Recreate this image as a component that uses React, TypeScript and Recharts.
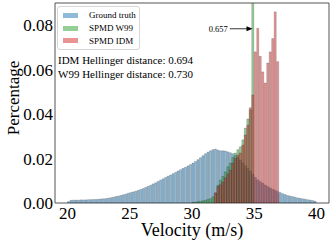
import {
  ComposedChart,
  Bar,
  XAxis,
  YAxis,
  Label,
  Legend,
  ReferenceArea,
  ReferenceLine,
} from "recharts";

const FONT = "Liberation Serif, DejaVu Serif, serif";

const BIN_WIDTH = 0.2;
const X_MIN = 19;
const X_MAX = 41;
const Y_MAX = 0.09;
const xTicks = [20, 25, 30, 35, 40];
const yTicks = [0, 0.02, 0.04, 0.06, 0.08];

// histogram heights, one value per 0.2 m/s bin, starting at the given left edge
const groundTruthStart = 20.0;
const groundTruth = [
  0.0006, 0.0012, 0.0013, 0.0013, 0.0013,
  0.0014, 0.0014, 0.0014, 0.0015, 0.0015,
  0.0016, 0.0016, 0.0017, 0.0018, 0.0019,
  0.002, 0.0022, 0.0024, 0.0026, 0.0029,
  0.0031, 0.0034, 0.0037, 0.004, 0.0044,
  0.0047, 0.005, 0.0053, 0.0057, 0.0061,
  0.0065, 0.007, 0.0075, 0.008, 0.0086,
  0.0091, 0.0097, 0.0103, 0.0109, 0.0115,
  0.0121, 0.0126, 0.0132, 0.0138, 0.0144,
  0.015, 0.0156, 0.0161, 0.0167, 0.0173,
  0.018, 0.0187, 0.0195, 0.0204, 0.0213,
  0.0222, 0.0229, 0.0235, 0.024, 0.0243,
  0.0238, 0.0235, 0.0235, 0.0234, 0.023,
  0.0226, 0.0222, 0.0215, 0.0205, 0.0193,
  0.0181, 0.0169, 0.0157, 0.0144, 0.013,
  0.0115, 0.0104, 0.0096, 0.0089, 0.0081,
  0.0074, 0.0068, 0.0062, 0.0057, 0.0052,
  0.0047, 0.0042, 0.0038, 0.0034, 0.0031,
  0.0029, 0.0026, 0.0023, 0.0021, 0.0019,
  0.0017, 0.0015, 0.0013, 0.0011, 0.0008,
];

const w99Start = 30.0;
const spmdW99 = [
  0.0003, 0.0004, 0.0006, 0.0008, 0.001,
  0.0013, 0.0016, 0.002, 0.0028, 0.0044,
  0.008, 0.0103, 0.012, 0.014, 0.0163,
  0.018, 0.0205, 0.0225, 0.024, 0.0253,
  0.0284, 0.0337, 0.0378, 0.042, 0.657,
];

const idmStart = 31.8;
const spmdIdm = [
  0.0046, 0.0073, 0.0082, 0.0094, 0.0113,
  0.013, 0.0148, 0.018, 0.02, 0.0215,
  0.0225, 0.026, 0.0306, 0.035, 0.0429,
  0.0486, 0.068, 0.0786, 0.066, 0.059,
  0.054, 0.063, 0.068, 0.074, 0.086,
  0.0636,
];

const seriesNames = ["Ground truth", "SPMD W99", "SPMD IDM"];
const colors = ["#1f77b4", "#2ca02c", "#d62728"];
const idmText = "IDM Hellinger distance: 0.694";
const w99Text = "W99 Hellinger distance: 0.730";
const peakText = "0.657";
// arrow of the peak annotation, in data units
const arrowFrom = { x: 33.04, y: 0.0784 };
const arrowTo = { x: 34.86, y: 0.0784 };

const binCount = Math.round((X_MAX - X_MIN) / BIN_WIDTH);
const pick = (start: number, values: number[], i: number) => {
  const k = i - Math.round((start - X_MIN) / BIN_WIDTH);
  return k >= 0 && k < values.length ? values[k] : null;
};
const data = Array.from({ length: binCount }, (_, i) => ({
  x: Number((X_MIN + BIN_WIDTH * (i + 0.5)).toFixed(2)),
  gt: pick(groundTruthStart, groundTruth, i),
  w99: pick(w99Start, spmdW99, i),
  idm: pick(idmStart, spmdIdm, i),
}));

function LegendBox({ payload }: any) {
  return (
    <div
      style={{
        border: "1px solid #d6d6d6",
        borderRadius: 3,
        background: "rgba(255,255,255,0.8)",
        padding: "2px 3px 2px 5px",
        fontFamily: FONT,
        fontSize: 9,
        color: "#000",
      }}
    >
      {(payload || []).map((entry: any) => (
        <div
          key={entry.value}
          style={{ display: "flex", alignItems: "center", height: 12.7 }}
        >
          <span
            style={{
              display: "inline-block",
              width: 15,
              height: 5,
              background: entry.color,
              opacity: 0.5,
              marginRight: 11,
            }}
          />
          <span>{entry.value}</span>
        </div>
      ))}
    </div>
  );
}

function Arrow(p: any) {
  const { x1, y1, x2, y2 } = p;
  return (
    <g>
      <line x1={x1} y1={y1} x2={x2 - 4} y2={y2} stroke="#000" strokeWidth={0.8} />
      <polygon
        points={`${x2},${y2} ${x2 - 6},${y2 - 2.5} ${x2 - 6},${y2 + 2.5}`}
        fill="#000"
      />
    </g>
  );
}

const barStyle = {
  stroke: "#000",
  strokeOpacity: 0.45,
  strokeWidth: 0.4,
  fillOpacity: 0.5,
};

export default function App() {
  return (
    <div style={{ position: "absolute", left: 0, top: 0, background: "#fff" }}>
      <ComposedChart
        width={332}
        height={243}
        data={data}
        margin={{ top: 3, right: 3, bottom: 0, left: 0 }}
        barCategoryGap={0}
        barGap={0}
      >
        <XAxis xAxisId="gt" dataKey="x" type="category" height={0} hide />
        <XAxis xAxisId="w99" dataKey="x" type="category" height={0} hide />
        <XAxis xAxisId="idm" dataKey="x" type="category" height={0} hide />
        <XAxis
          xAxisId="num"
          dataKey="x"
          type="number"
          domain={[X_MIN, X_MAX]}
          ticks={xTicks}
          allowDataOverflow
          height={40}
          tickLine={false}
          axisLine={false}
          tickSize={0}
          tickMargin={4}
          tick={{ fontSize: 17, fill: "#000", fontFamily: FONT }}
        >
          <Label
            value="Velocity (m/s)"
            position="insideBottom"
            offset={7}
            style={{ fontSize: 18, fill: "#000", fontFamily: FONT }}
          />
        </XAxis>
        <YAxis
          domain={[0, Y_MAX]}
          ticks={yTicks}
          allowDataOverflow
          width={55}
          tickLine={false}
          axisLine={false}
          tickSize={0}
          tickMargin={2}
          tickFormatter={(v: number) => v.toFixed(2)}
          tick={{ fontSize: 17, fill: "#000", fontFamily: FONT }}
        >
          <Label
            value="Percentage"
            angle={-90}
            position="center"
            dx={-15}
            dy={-5}
            style={{ fontSize: 17, fill: "#000", fontFamily: FONT }}
          />
        </YAxis>
        <Bar
          xAxisId="gt"
          dataKey="gt"
          name={seriesNames[0]}
          fill={colors[0]}
          {...barStyle}
          isAnimationActive={false}
        />
        <Bar
          xAxisId="w99"
          dataKey="w99"
          name={seriesNames[1]}
          fill={colors[1]}
          {...barStyle}
          isAnimationActive={false}
        />
        <Bar
          xAxisId="idm"
          dataKey="idm"
          name={seriesNames[2]}
          fill={colors[2]}
          {...barStyle}
          isAnimationActive={false}
        />
        <ReferenceArea
          xAxisId="num"
          x1={X_MIN}
          x2={X_MAX}
          y1={0}
          y2={Y_MAX}
          fill="none"
          stroke="#555"
          strokeWidth={1}
          fillOpacity={0}
        />
        <ReferenceLine
          xAxisId="num"
          segment={[arrowFrom, arrowTo]}
          shape={Arrow}
          label={{
            value: peakText,
            position: "left",
            offset: 2,
            style: { fontSize: 8.5, fill: "#000", fontFamily: FONT },
          }}
        />
        <Legend
          layout="vertical"
          align="center"
          verticalAlign="middle"
          content={LegendBox}
          itemSorter={(item: any) => seriesNames.indexOf(item.value)}
          wrapperStyle={{ left: 57, top: 6, width: "auto", height: "auto" }}
        />
        <text x={58} y={64} fontSize={11} fontFamily={FONT} fill="#000">
          {idmText}
        </text>
        <text x={58} y={78} fontSize={11} fontFamily={FONT} fill="#000">
          {w99Text}
        </text>
      </ComposedChart>
    </div>
  );
}
